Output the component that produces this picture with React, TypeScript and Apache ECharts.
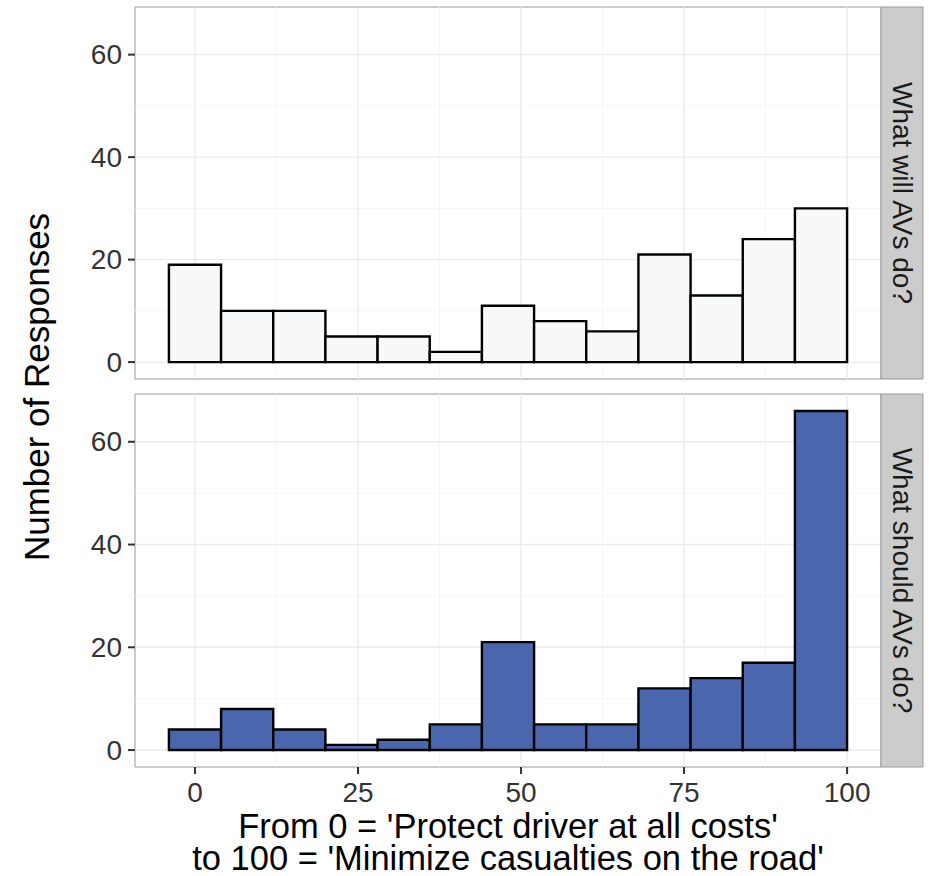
import React, { useEffect, useRef } from "react";
import * as echarts from "echarts";

// ---- data ----
const binCenters = [0, 8, 16, 24, 32, 40, 48, 56, 64, 72, 80, 88, 96];
const binWidth = 8;
const willCounts = [19, 10, 10, 5, 5, 2, 11, 8, 6, 21, 13, 24, 30];
const shouldCounts = [4, 8, 4, 1, 2, 5, 21, 5, 5, 12, 14, 17, 66];
const panelLabels = ["What will AVs do?", "What should AVs do?"];
const xTicks = [0, 25, 50, 75, 100];
const xMinor = [12.5, 37.5, 62.5, 87.5];
const yTicks = [0, 20, 40, 60];
const yMinor = [10, 30, 50];
const yTitle = "Number of Responses";
const xTitleLines = ["From 0 = 'Protect driver at all costs'", "to 100 = 'Minimize casualties on the road'"];

const FONT = "'Liberation Sans', Arial, Helvetica, sans-serif";
const X_MIN = -9.2, X_MAX = 105.2, Y_MIN = -3.3, Y_MAX = 69.3;
const PANEL_LEFT = 135, PANEL_W = 746;
const PANELS = [
  { top: 7, height: 372 },
  { top: 394, height: 373 },
];
const FILLS = ["#F7F8FA", "#4A66AD"];
const STRIP_W = 42;
const TICK_LEN = 7;

export default function App() {
  const ref = useRef<HTMLDivElement>(null);
  useEffect(() => {
    if (!ref.current) return;
    const chart = echarts.init(ref.current, null, { renderer: "svg" });

    const grids = PANELS.map((p) => ({
      left: PANEL_LEFT,
      top: p.top,
      width: PANEL_W,
      height: p.height,
      show: true,
      backgroundColor: "#FFFFFF",
      borderColor: "#999999",
      borderWidth: 1,
    }));

    const xAxes = PANELS.map((_, i) => ({
      type: "value",
      gridIndex: i,
      position: "bottom",
      min: X_MIN,
      max: X_MAX,
      axisLine: { show: false, onZero: false },
      splitLine: { show: false },
      axisTick: { show: false },
      axisLabel: {
        show: i === 1,
        customValues: xTicks,
        fontSize: 28,
        fontFamily: FONT,
        color: "#333333",
        margin: 11,
      },
    }));

    const yAxes = PANELS.map((_, i) => ({
      type: "value",
      gridIndex: i,
      position: "left",
      min: Y_MIN,
      max: Y_MAX,
      axisLine: { show: false, onZero: false },
      splitLine: { show: false },
      axisTick: { show: false },
      axisLabel: {
        customValues: yTicks,
        fontSize: 28,
        fontFamily: FONT,
        color: "#333333",
        margin: 13,
      },
    }));

    // kind: 0 = x grid line, 1 = y grid line
    const gridData: any[] = [];
    xMinor.forEach((v) => gridData.push([v, 0, 0, 0]));
    yMinor.forEach((v) => gridData.push([0, v, 1, 0]));
    xTicks.forEach((v) => gridData.push([v, 0, 0, 1]));
    yTicks.forEach((v) => gridData.push([0, v, 1, 1]));

    const gridSeries = PANELS.map((_, i) => ({
      type: "custom",
      xAxisIndex: i,
      yAxisIndex: i,
      z: 1,
      silent: true,
      data: gridData,
      renderItem: (params: any, api: any) => {
        const cs = params.coordSys;
        const kind = api.value(2);
        const major = api.value(3) === 1;
        const style = { stroke: major ? "#EBEBEB" : "#F5F5F5", lineWidth: major ? 1.4 : 0.9 };
        if (kind === 1) {
          const p = api.coord([0, api.value(1)]);
          return { type: "line", shape: { x1: cs.x, y1: p[1], x2: cs.x + cs.width, y2: p[1] }, style };
        }
        const p = api.coord([api.value(0), 0]);
        return { type: "line", shape: { x1: p[0], y1: cs.y, x2: p[0], y2: cs.y + cs.height }, style };
      },
    }));

    const barSeries = [willCounts, shouldCounts].map((counts, i) => ({
      type: "custom",
      name: panelLabels[i],
      xAxisIndex: i,
      yAxisIndex: i,
      z: 3,
      data: binCenters.map((c, k) => [c, counts[k]]),
      encode: { x: 0, y: 1 },
      renderItem: (params: any, api: any) => {
        const c = api.value(0);
        const v = api.value(1);
        const p0 = api.coord([c - binWidth / 2, 0]);
        const p1 = api.coord([c + binWidth / 2, v]);
        return {
          type: "rect",
          shape: { x: p0[0], y: p1[1], width: p1[0] - p0[0], height: p0[1] - p1[1] },
          style: { fill: FILLS[i], stroke: "#000000", lineWidth: 2.4 },
        };
      },
    }));

    chart.setOption({
      animation: false,
      backgroundColor: "#FFFFFF",
      grid: grids,
      xAxis: xAxes,
      yAxis: yAxes,
      series: [...gridSeries, ...barSeries],
    });

    // pixel scale derived from the axis extents (same mapping the axes use)
    const xPx = (v: number) => PANEL_LEFT + ((v - X_MIN) / (X_MAX - X_MIN)) * PANEL_W;
    const yPx = (v: number, p: { top: number; height: number }) =>
      p.top + p.height - ((v - Y_MIN) / (Y_MAX - Y_MIN)) * p.height;

    const graphics: any[] = [];
    PANELS.forEach((p, i) => {
      yTicks.forEach((v) => {
        const y = yPx(v, p);
        graphics.push({
          type: "polyline",
          shape: { points: [[PANEL_LEFT - TICK_LEN, y], [PANEL_LEFT, y]] },
          style: { stroke: "#333333", lineWidth: 2, fill: null },
          z: 50,
        });
      });
      if (i === 1) {
        xTicks.forEach((v) => {
          const x = xPx(v);
          const yb = p.top + p.height;
          graphics.push({
            type: "polyline",
            shape: { points: [[x, yb], [x, yb + TICK_LEN]] },
            style: { stroke: "#333333", lineWidth: 2, fill: null },
            z: 50,
          });
        });
      }
      graphics.push({
        type: "rect",
        shape: { x: PANEL_LEFT + PANEL_W, y: p.top, width: STRIP_W, height: p.height },
        style: { fill: "#CCCCCC", stroke: "#999999", lineWidth: 1 },
        z: 10,
      });
      graphics.push({
        type: "text",
        x: PANEL_LEFT + PANEL_W + STRIP_W / 2,
        y: p.top + p.height / 2,
        rotation: -Math.PI / 2,
        style: {
          text: panelLabels[i],
          fontSize: 28,
          fontFamily: FONT,
          fill: "#1A1A1A",
          align: "center",
          verticalAlign: "middle",
        },
        z: 11,
      });
    });
    graphics.push({
      type: "text",
      x: 36,
      y: (PANELS[0].top + PANELS[1].top + PANELS[1].height) / 2,
      rotation: Math.PI / 2,
      style: {
        text: yTitle,
        fontSize: 35,
        fontFamily: FONT,
        fill: "#000000",
        align: "center",
        verticalAlign: "middle",
      },
    });
    xTitleLines.forEach((line, k) => {
      graphics.push({
        type: "text",
        x: PANEL_LEFT + PANEL_W / 2,
        y: 826 + k * 32,
        style: {
          text: line,
          fontSize: 34.5,
          lineHeight: 31,
          fontFamily: FONT,
          fill: "#000000",
          align: "center",
          verticalAlign: "middle",
        },
      });
    });

    chart.setOption({ graphic: { elements: graphics } });
    return () => chart.dispose();
  }, []);
  return (
    <div
      ref={ref}
      style={{ position: "absolute", left: 0, top: 0, width: 929, height: 876 }}
    />
  );
}
